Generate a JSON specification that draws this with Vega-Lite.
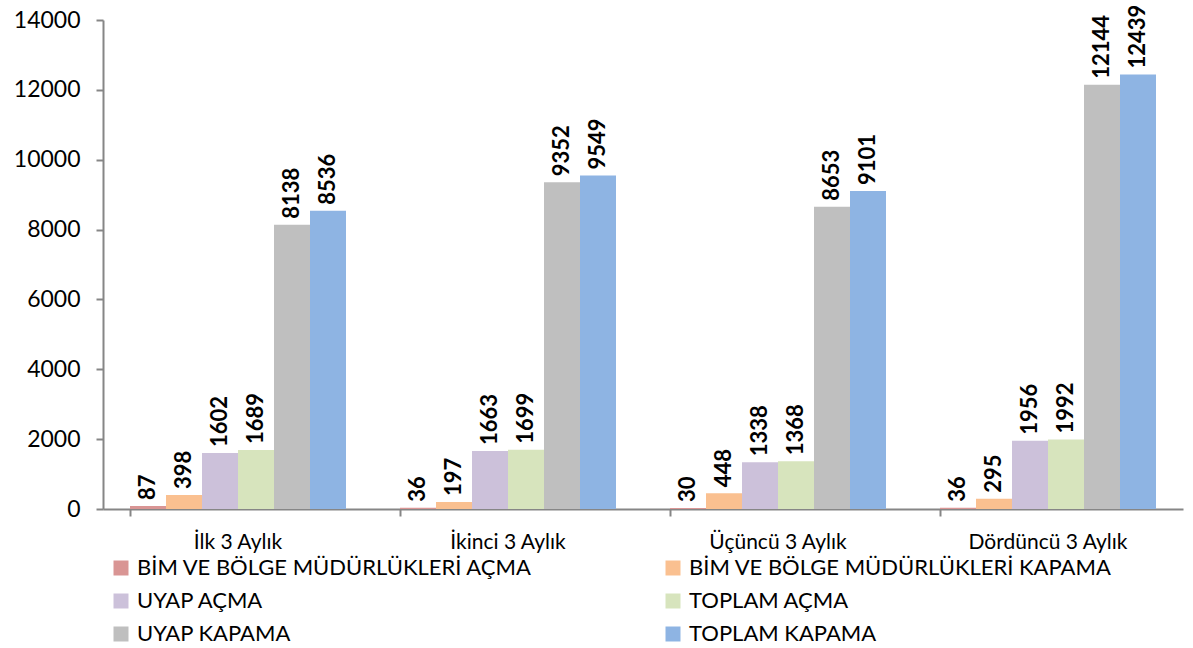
{
  "$schema": "https://vega.github.io/schema/vega-lite/v6.json",
  "autosize": {"type": "none"},
  "padding": {"left": 103, "top": 20, "right": 10, "bottom": 139},
  "width": 1080,
  "height": 489,
  "background": "white",
  "config": {
    "view": {"stroke": null},
    "font": "Lato",
    "axis": {"labelFont": "Lato", "labelColor": "black", "domainColor": "#868686", "tickColor": "#868686", "domainWidth": 2, "tickWidth": 2, "grid": false, "title": null}
  },
  "data": {
    "values": [
      {"period": "İlk 3 Aylık", "series": "BİM VE BÖLGE MÜDÜRLÜKLERİ AÇMA", "value": 87},
      {"period": "İlk 3 Aylık", "series": "BİM VE BÖLGE MÜDÜRLÜKLERİ KAPAMA", "value": 398},
      {"period": "İlk 3 Aylık", "series": "UYAP AÇMA", "value": 1602},
      {"period": "İlk 3 Aylık", "series": "TOPLAM AÇMA", "value": 1689},
      {"period": "İlk 3 Aylık", "series": "UYAP KAPAMA", "value": 8138},
      {"period": "İlk 3 Aylık", "series": "TOPLAM KAPAMA", "value": 8536},
      {"period": "İkinci 3 Aylık", "series": "BİM VE BÖLGE MÜDÜRLÜKLERİ AÇMA", "value": 36},
      {"period": "İkinci 3 Aylık", "series": "BİM VE BÖLGE MÜDÜRLÜKLERİ KAPAMA", "value": 197},
      {"period": "İkinci 3 Aylık", "series": "UYAP AÇMA", "value": 1663},
      {"period": "İkinci 3 Aylık", "series": "TOPLAM AÇMA", "value": 1699},
      {"period": "İkinci 3 Aylık", "series": "UYAP KAPAMA", "value": 9352},
      {"period": "İkinci 3 Aylık", "series": "TOPLAM KAPAMA", "value": 9549},
      {"period": "Üçüncü 3 Aylık", "series": "BİM VE BÖLGE MÜDÜRLÜKLERİ AÇMA", "value": 30},
      {"period": "Üçüncü 3 Aylık", "series": "BİM VE BÖLGE MÜDÜRLÜKLERİ KAPAMA", "value": 448},
      {"period": "Üçüncü 3 Aylık", "series": "UYAP AÇMA", "value": 1338},
      {"period": "Üçüncü 3 Aylık", "series": "TOPLAM AÇMA", "value": 1368},
      {"period": "Üçüncü 3 Aylık", "series": "UYAP KAPAMA", "value": 8653},
      {"period": "Üçüncü 3 Aylık", "series": "TOPLAM KAPAMA", "value": 9101},
      {"period": "Dördüncü 3 Aylık", "series": "BİM VE BÖLGE MÜDÜRLÜKLERİ AÇMA", "value": 36},
      {"period": "Dördüncü 3 Aylık", "series": "BİM VE BÖLGE MÜDÜRLÜKLERİ KAPAMA", "value": 295},
      {"period": "Dördüncü 3 Aylık", "series": "UYAP AÇMA", "value": 1956},
      {"period": "Dördüncü 3 Aylık", "series": "TOPLAM AÇMA", "value": 1992},
      {"period": "Dördüncü 3 Aylık", "series": "UYAP KAPAMA", "value": 12144},
      {"period": "Dördüncü 3 Aylık", "series": "TOPLAM KAPAMA", "value": 12439}
    ]
  },
  "encoding": {
    "x": {
      "field": "period", "type": "nominal", "sort": null,
      "scale": {"paddingInner": 0.2, "paddingOuter": 0.1},
      "axis": {"labelAngle": 0, "labelFontSize": 21, "bandPosition": 0, "tickSize": 7, "labelPadding": 15}
    },
    "xOffset": {
      "field": "series", "type": "nominal",
      "sort": ["BİM VE BÖLGE MÜDÜRLÜKLERİ AÇMA", "BİM VE BÖLGE MÜDÜRLÜKLERİ KAPAMA", "UYAP AÇMA", "TOPLAM AÇMA", "UYAP KAPAMA", "TOPLAM KAPAMA"],
      "scale": {"paddingInner": 0, "paddingOuter": 0}
    },
    "y": {
      "field": "value", "type": "quantitative",
      "scale": {"domain": [0, 14000], "nice": false},
      "axis": {"values": [0, 2000, 4000, 6000, 8000, 10000, 12000, 14000], "labelFontSize": 23, "tickSize": 7, "labelPadding": 16, "format": "d"}
    }
  },
  "layer": [
    {
      "mark": {"type": "bar"},
      "encoding": {
        "color": {
          "field": "series", "type": "nominal",
          "scale": {
            "domain": ["BİM VE BÖLGE MÜDÜRLÜKLERİ AÇMA", "BİM VE BÖLGE MÜDÜRLÜKLERİ KAPAMA", "UYAP AÇMA", "TOPLAM AÇMA", "UYAP KAPAMA", "TOPLAM KAPAMA"],
            "range": ["#D99594", "#FAC090", "#CCC1DA", "#D7E4BD", "#BFBFBF", "#8EB4E3"]
          },
          "legend": {
            "title": null, "orient": "none", "legendX": 7, "legendY": 537, "direction": "horizontal",
            "columns": 2, "columnPadding": 129, "rowPadding": 11,
            "symbolType": "square", "symbolSize": 225, "symbolStrokeWidth": 0,
            "labelFontSize": 22, "labelFont": "Lato", "labelColor": "black", "labelLimit": 600, "labelOffset": 5
          }
        }
      }
    },
    {
      "mark": {"type": "text", "angle": 270, "align": "left", "baseline": "middle", "dx": 6, "fontSize": 22, "fontWeight": "bold", "color": "black"},
      "encoding": {"text": {"field": "value", "type": "quantitative", "format": "d"}}
    }
  ]
}
